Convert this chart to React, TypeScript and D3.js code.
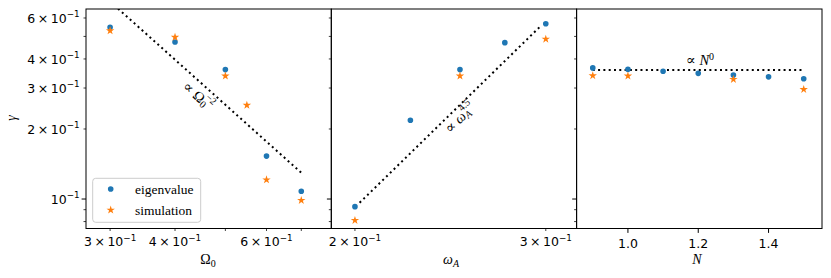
import React from "react";
import * as d3 from "d3";

// ---- data ----
const omega0Eig = [0.3, 0.4, 0.5, 0.6, 0.7];
const gammaEig1 = [0.547, 0.473, 0.36, 0.153, 0.108];
const omega0Sim = [0.3, 0.4, 0.5, 0.55, 0.6, 0.7];
const gammaSim1 = [0.529, 0.496, 0.338, 0.253, 0.121, 0.0987];
const fit1X = [0.3, 0.7];
const fit1Y = [0.706, 0.1297];

const omegaAEig = [0.2, 0.225, 0.25, 0.275, 0.3];
const gammaEig2 = [0.0927, 0.218, 0.36, 0.47, 0.567];
const omegaASim = [0.2, 0.25, 0.3];
const gammaSim2 = [0.081, 0.338, 0.487];
const fit2X = [0.202, 0.297];
const fit2Y = [0.0964, 0.556];

const nEig = [0.9, 1.0, 1.1, 1.2, 1.3, 1.4, 1.5];
const gammaEig3 = [0.366, 0.361, 0.354, 0.347, 0.341, 0.335, 0.329];
const nSim = [0.9, 1.0, 1.3, 1.5];
const gammaSim3 = [0.339, 0.338, 0.327, 0.296];
const fit3X = [0.9, 1.5];
const fit3Y = [0.3585, 0.3585];

const yMajorTicks = [0.1];
const yMinorTicks = [0.08, 0.09, 0.2, 0.3, 0.4, 0.5, 0.6];
const yTickLabels: [number, string][] = [
  [0.1, "1"],
  [0.2, "2"],
  [0.3, "3"],
  [0.4, "4"],
  [0.6, "6"],
];
const x1MinorTicks = [0.3, 0.4, 0.5, 0.6, 0.7];
const x1TickLabels: [number, string][] = [
  [0.3, "3"],
  [0.4, "4"],
  [0.6, "6"],
];
const x2MinorTicks = [0.2, 0.3];
const x2TickLabels: [number, string][] = [
  [0.2, "2"],
  [0.3, "3"],
];
const x3MajorTicks = [1.0, 1.2, 1.4];
const x3TickLabels = ["1.0", "1.2", "1.4"];

const legendLabels = ["eigenvalue", "simulation"];

// ---- layout ----
const W = 831;
const H = 278;
const TOP = 9;
const BOTTOM = 228.5;
const P = [86, 331.3, 576.6, 822];
const BLUE = "#1f77b4";
const ORANGE = "#ff7f0e";
const TICKFONT = "DejaVu Sans, sans-serif";
const SERIF = "Liberation Serif, DejaVu Serif, serif";
const TFS = 12.5;
const MAJ = 4.4;
const MIN = 2.5;

const y = d3.scaleLog().domain([0.0747, 0.6558]).range([BOTTOM, TOP]);
const x1 = d3.scaleLog().domain([0.2696, 0.7996]).range([P[0], P[1]]);
const x2 = d3.scaleLog().domain([0.1902, 0.3203]).range([P[1], P[2]]);
const x3 = d3.scaleLinear().domain([0.854, 1.552]).range([P[2], P[3]]);

const circle = d3.symbol().type(d3.symbolCircle).size(25)();
const star = d3.symbol().type(d3.symbolStar).size(22)();

function SciLabel({ x, yy, mant, anchor }: { x: number; yy: number; mant: string; anchor: string }) {
  return (
    <text x={x} y={yy} fontFamily={TICKFONT} fontSize={TFS} textAnchor={anchor} fill="#000">
      {mant === "1" ? (
        <>10</>
      ) : (
        <>
          {mant}
          {"\u2009×\u2009"}10
        </>
      )}
      <tspan dy={-5.5} fontSize={8.8}>
        −1
      </tspan>
    </text>
  );
}

function Panel({
  xs,
  x0,
  x1p,
  idx,
  eigX,
  eigY,
  simX,
  simY,
  fitX,
  fitY,
}: any) {
  const line = d3
    .line<number>()
    .x((_, i) => xs(fitX[i]))
    .y((d) => y(d));
  const clipId = `clip${idx}`;
  return (
    <g>
      <defs>
        <clipPath id={clipId}>
          <rect x={x0} y={TOP} width={x1p - x0} height={BOTTOM - TOP} />
        </clipPath>
      </defs>
      <g clipPath={`url(#${clipId})`}>
        <path
          d={line(fitY) || ""}
          fill="none"
          stroke="#000"
          strokeWidth={2}
          strokeDasharray="2 3.3"
        />
      </g>
      {eigX.map((v: number, i: number) => (
        <path key={"e" + i} d={circle} transform={`translate(${xs(v)},${y(eigY[i])})`} fill={BLUE} />
      ))}
      {simX.map((v: number, i: number) => (
        <path key={"s" + i} d={star} transform={`translate(${xs(v)},${y(simY[i])})`} fill={ORANGE} />
      ))}
      {yMajorTicks.map((t) => (
        <line key={"ym" + t} x1={x0 - MAJ} x2={x0} y1={y(t)} y2={y(t)} stroke="#000" strokeWidth={1} />
      ))}
      {yMinorTicks.map((t) => (
        <line key={"yn" + t} x1={x0 - MIN} x2={x0} y1={y(t)} y2={y(t)} stroke="#000" strokeWidth={0.75} />
      ))}
      <rect x={x0} y={TOP} width={x1p - x0} height={BOTTOM - TOP} fill="none" stroke="#000" strokeWidth={1} />
    </g>
  );
}

export default function App() {
  const legendX = 92.7;
  const legendY = 178.3;
  return (
    <svg width={W} height={H} style={{ display: "block", position: "absolute", left: 0, top: 0 }}>
      <rect x={0} y={0} width={W} height={H} fill="#fff" />
      <Panel xs={x1} x0={P[0]} x1p={P[1]} idx={1} eigX={omega0Eig} eigY={gammaEig1} simX={omega0Sim} simY={gammaSim1} fitX={fit1X} fitY={fit1Y} />
      <Panel xs={x2} x0={P[1]} x1p={P[2]} idx={2} eigX={omegaAEig} eigY={gammaEig2} simX={omegaASim} simY={gammaSim2} fitX={fit2X} fitY={fit2Y} />
      <Panel xs={x3} x0={P[2]} x1p={P[3]} idx={3} eigX={nEig} eigY={gammaEig3} simX={nSim} simY={gammaSim3} fitX={fit3X} fitY={fit3Y} />

      {yTickLabels.map(([v, m]) => (
        <SciLabel key={"yl" + v} x={P[0] - MAJ - 2} yy={y(v) + 4.8} mant={m} anchor="end" />
      ))}

      {x1MinorTicks.map((t) => (
        <line key={"x1" + t} x1={x1(t)} x2={x1(t)} y1={BOTTOM} y2={BOTTOM + MIN} stroke="#000" strokeWidth={0.75} />
      ))}
      {x1TickLabels.map(([v, m]) => (
        <SciLabel key={"x1l" + v} x={x1(v)} yy={246} mant={m} anchor="middle" />
      ))}
      {x2MinorTicks.map((t) => (
        <line key={"x2" + t} x1={x2(t)} x2={x2(t)} y1={BOTTOM} y2={BOTTOM + MIN} stroke="#000" strokeWidth={0.75} />
      ))}
      {x2TickLabels.map(([v, m]) => (
        <SciLabel key={"x2l" + v} x={x2(v)} yy={246} mant={m} anchor="middle" />
      ))}
      {x3MajorTicks.map((t, i) => (
        <g key={"x3" + t}>
          <line x1={x3(t)} x2={x3(t)} y1={BOTTOM} y2={BOTTOM + MAJ} stroke="#000" strokeWidth={1} />
          <text x={x3(t)} y={248.3} fontFamily={TICKFONT} fontSize={TFS} textAnchor="middle">
            {x3TickLabels[i]}
          </text>
        </g>
      ))}

      <text x={208} y={264} fontFamily={SERIF} fontSize={14} textAnchor="middle">
        Ω<tspan dy={3} fontSize={10}>0</tspan>
      </text>
      <text x={451} y={264} fontFamily={SERIF} fontSize={14} textAnchor="middle">
        <tspan fontStyle="italic">ω</tspan>
        <tspan dy={3} fontSize={10} fontStyle="italic">A</tspan>
      </text>
      <text x={697} y={264} fontFamily={SERIF} fontSize={14} textAnchor="middle" fontStyle="italic">
        N
      </text>
      <text transform="translate(16,118) rotate(-90)" fontFamily={SERIF} fontSize={14} textAnchor="middle" fontStyle="italic">
        γ
      </text>

      <text transform="translate(197,97) rotate(41.8)" fontFamily={SERIF} fontSize={14.5} textAnchor="middle" dominantBaseline="middle">
        ∝ Ω<tspan dy={3} fontSize={10}>0</tspan>
        <tspan dx={-5} dy={-9.5} fontSize={10}>−2</tspan>
      </text>
      <text transform="translate(461,119) rotate(-44)" fontFamily={SERIF} fontSize={14.5} textAnchor="middle" dominantBaseline="middle">
        ∝ <tspan fontStyle="italic">ω</tspan>
        <tspan dy={3} fontSize={10} fontStyle="italic">A</tspan>
        <tspan dx={-6} dy={-9.5} fontSize={10}>4.5</tspan>
      </text>
      <text x={700} y={65} fontFamily={SERIF} fontSize={14.5} textAnchor="middle">
        ∝ <tspan fontStyle="italic">N</tspan>
        <tspan dy={-5.5} fontSize={10}>0</tspan>
      </text>

      <rect x={legendX} y={legendY} width={108} height={44} rx={3} fill="#fff" fillOpacity={0.8} stroke="#cccccc" strokeWidth={1} />
      <path d={circle} transform={`translate(${110.7},${189})`} fill={BLUE} />
      <path d={star} transform={`translate(${110.7},${210})`} fill={ORANGE} />
      <text x={135} y={194} fontFamily={SERIF} fontSize={13.5}>
        {legendLabels[0]}
      </text>
      <text x={135} y={215} fontFamily={SERIF} fontSize={13.5}>
        {legendLabels[1]}
      </text>
    </svg>
  );
}
